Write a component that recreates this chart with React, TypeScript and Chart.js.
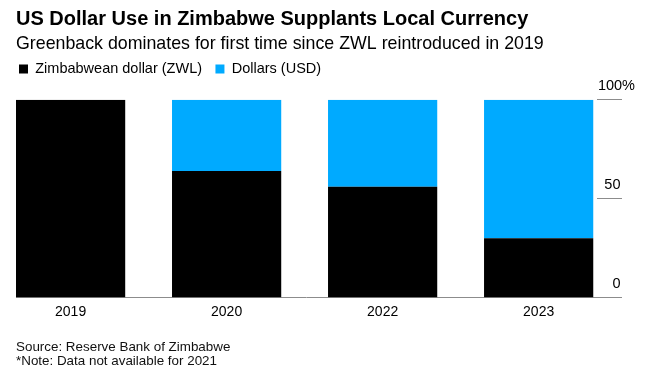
import React, { useEffect, useRef } from 'react';
import { Chart, registerables } from 'chart.js';

Chart.register(...registerables);

const categories = ['2019', '2020', '2022', '2023'];
const zwlShare = [100, 64, 56, 30];
const usdShare = [0, 36, 44, 70];
const yTicks = [0, 50, 100];
const seriesNames = ['Zimbabwean dollar (ZWL)', 'Dollars (USD)'];
const titleText = 'US Dollar Use in Zimbabwe Supplants Local Currency';
const subtitleText = 'Greenback dominates for first time since ZWL reintroduced in 2019';
const footerLines = ['Source: Reserve Bank of Zimbabwe', '*Note: Data not available for 2021'];

const FONT = "'Liberation Sans', Arial, Helvetica, sans-serif";
const ZWL_COLOR = '#000000';
const USD_COLOR = '#00aaff';
const AXIS_GREY = '#8c8c8c';

export default function App() {
  const ref = useRef<HTMLCanvasElement>(null);

  useEffect(() => {
    const legendTweak = {
      id: 'legendTweak',
      beforeInit(chart: any) {
        const fit = chart.legend.fit;
        chart.legend.fit = function () {
          fit.call(this);
          this.height += 13.4;
        };
      },
      afterLayout(chart: any) {
        chart.legend.left = 5.6;
      },
    };

    const chart = new Chart(ref.current as HTMLCanvasElement, {
      type: 'bar',
      data: {
        datasets: [
          {
            label: seriesNames[0],
            data: zwlShare.map((v, i) => ({ x: i, y: v })),
            backgroundColor: ZWL_COLOR,
            borderWidth: 0,
            stack: 's',
            categoryPercentage: 0.7,
            barPercentage: 1,
          },
          {
            label: seriesNames[1],
            data: usdShare.map((v, i) => ({ x: i, y: v })),
            backgroundColor: USD_COLOR,
            borderWidth: 0,
            stack: 's',
            categoryPercentage: 0.7,
            barPercentage: 1,
          },
        ],
      } as any,
      options: {
        animation: false,
        responsive: false,
        maintainAspectRatio: false,
        events: [],
        font: { family: FONT },
        layout: { padding: { left: 16, right: 10, top: 0, bottom: 54.5 } },
        plugins: {
          title: {
            display: true,
            text: titleText,
            align: 'start',
            color: '#000',
            font: { family: FONT, size: 20, weight: 'bold' },
            padding: { top: 7, bottom: 0 },
          },
          subtitle: {
            display: true,
            text: subtitleText,
            align: 'start',
            color: '#000',
            font: { family: FONT, size: 17.8 },
            padding: { top: 2, bottom: -6 },
          },
          legend: {
            display: true,
            position: 'top',
            align: 'start',
            labels: {
              boxWidth: 9,
              boxHeight: 9,
              padding: 13.4,
              color: '#000',
              font: { family: FONT, size: 14.5 },
            },
          },
          tooltip: { enabled: false },
        },
        scales: {
          x: {
            type: 'linear',
            min: -0.35,
            max: 3.374,
            offset: false,
            grid: { display: false, drawTicks: false },
            border: { display: true, color: AXIS_GREY, width: 1 },
            ticks: {
              stepSize: 1,
              includeBounds: false,
              autoSkip: false,
              maxRotation: 0,
              padding: 6,
              color: '#000',
              font: { family: FONT, size: 14 },
              callback: (v: any) => categories[v as number] ?? '',
            },
          },
          y: {
            type: 'linear',
            position: 'right',
            stacked: true,
            min: 0,
            max: 100,
            afterBuildTicks: (axis: any) => {
              axis.ticks = yTicks.map((v) => ({ value: v }));
            },
            grid: {
              drawOnChartArea: false,
              drawTicks: true,
              tickLength: 25,
              color: AXIS_GREY,
              lineWidth: 1,
            },
            border: { display: false },
            ticks: {
              padding: -12.04,
              crossAlign: 'far',
              labelOffset: -13.5,
              color: '#000',
              font: { family: FONT, size: 14.5 },
              callback: (v: any) => (v === 100 ? '100%' : `${v}\u2003`),
            },
          },
        },
      } as any,
      plugins: [legendTweak],
    });
    return () => chart.destroy();
  }, []);

  return (
    <div style={{ position: 'fixed', left: 0, top: 0, width: 645, height: 381, background: '#fff' }}>
      <canvas ref={ref} width={645} height={381} style={{ display: 'block', width: 645, height: 381 }} />
      {footerLines.map((line, i) => (
        <div
          key={i}
          style={{
            position: 'absolute',
            left: 16,
            top: 340 + i * 14,
            fontFamily: FONT,
            fontSize: 13.4,
            lineHeight: '14px',
            color: '#111',
            whiteSpace: 'nowrap',
          }}
        >
          {line}
        </div>
      ))}
    </div>
  );
}
